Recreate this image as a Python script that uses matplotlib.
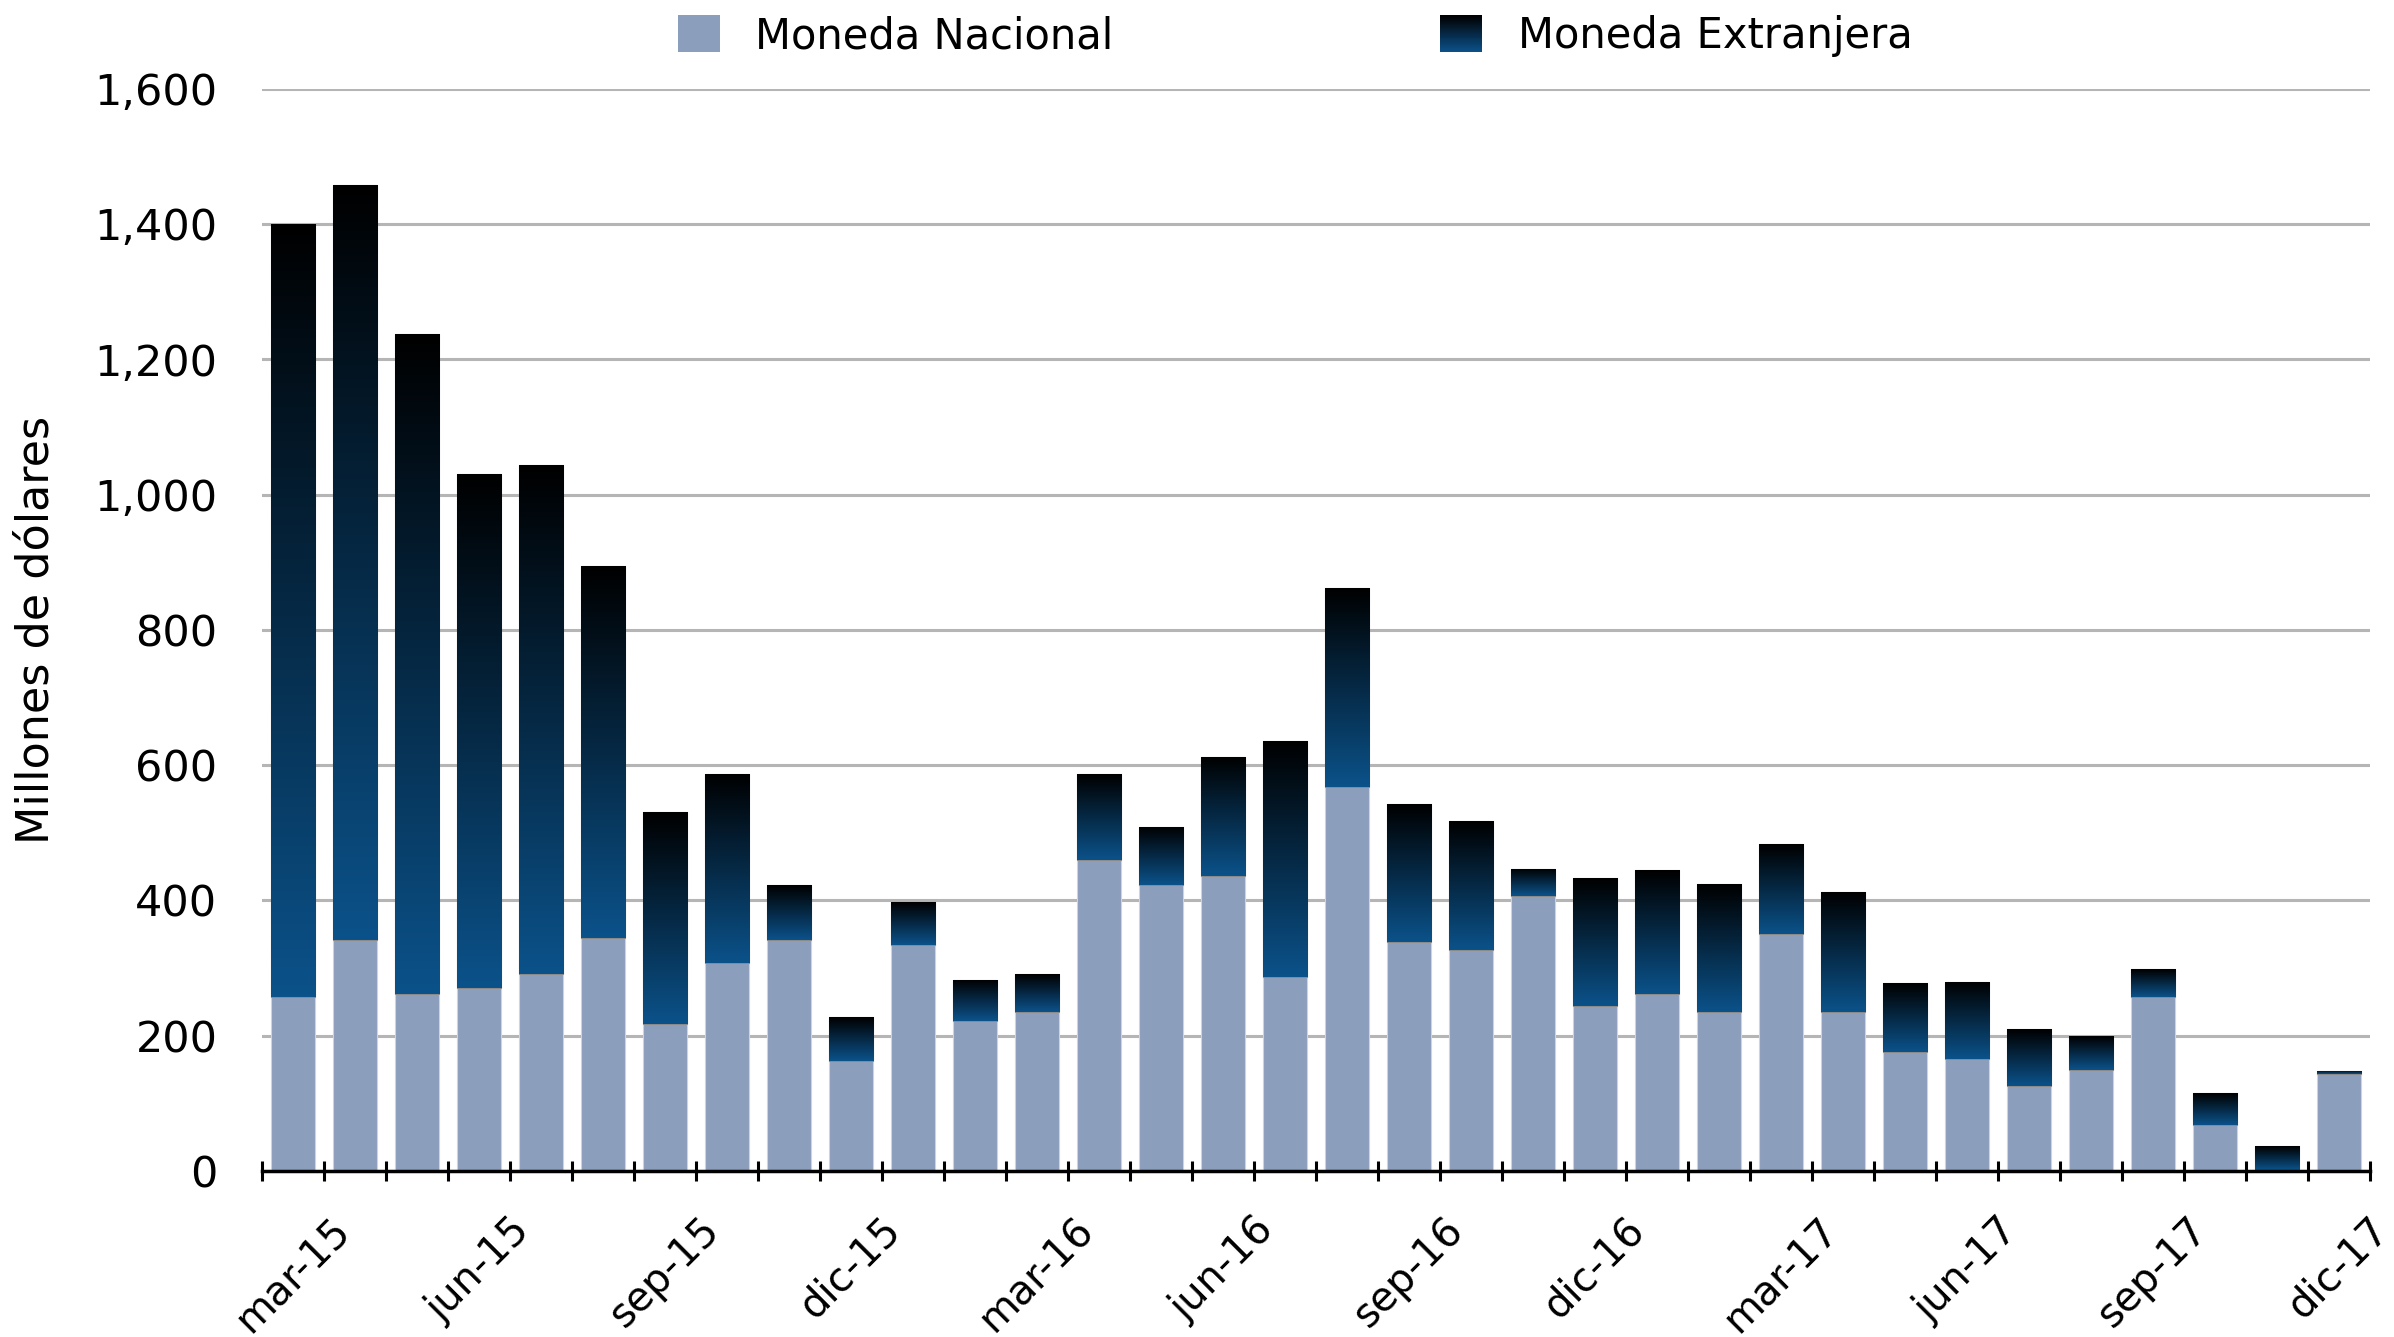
import numpy as np
import matplotlib
matplotlib.use('Agg')
import matplotlib.pyplot as plt
from matplotlib.colors import LinearSegmentedColormap
from matplotlib.patches import Rectangle
from matplotlib.legend_handler import HandlerBase

# monthly data, mar-15 .. dic-17 (millones de dolares)
meses = ['mar-15', 'abr-15', 'may-15', 'jun-15', 'jul-15', 'ago-15', 'sep-15', 'oct-15',
         'nov-15', 'dic-15', 'ene-16', 'feb-16', 'mar-16', 'abr-16', 'may-16', 'jun-16',
         'jul-16', 'ago-16', 'sep-16', 'oct-16', 'nov-16', 'dic-16', 'ene-17', 'feb-17',
         'mar-17', 'abr-17', 'may-17', 'jun-17', 'jul-17', 'ago-17', 'sep-17', 'oct-17',
         'nov-17', 'dic-17']
nacional = [257, 341, 262, 271, 291, 345, 217, 307, 341, 163, 334, 221, 235, 460, 422, 436,
            287, 567, 339, 327, 406, 244, 262, 235, 350, 235, 176, 165, 126, 149, 257, 68,
            2, 143]
extranjera = [1143, 1117, 975, 760, 752, 549, 313, 280, 81, 65, 63, 61, 56, 127, 86, 176,
              349, 295, 203, 190, 41, 189, 183, 189, 133, 178, 102, 115, 84, 50, 41, 47,
              35, 5]

color_nac = '#8b9ebc'
cmap_ext = LinearSegmentedColormap.from_list('ext', ['#0b528a', '#000000'])

plt.rcParams['font.family'] = ['DejaVu Sans']
plt.rcParams['font.size'] = 30


class GradientHandler(HandlerBase):
    # legend swatch with the same vertical gradient as the bars
    def create_artists(self, legend, orig_handle, xdescent, ydescent, width, height,
                       fontsize, trans):
        n = 40
        arts = []
        for k in range(n):
            r = Rectangle((-xdescent, -ydescent + k * height / n), width, height / n + 0.3,
                          facecolor=cmap_ext(k / (n - 1)), edgecolor='none', transform=trans)
            arts.append(r)
        return arts


fig = plt.figure(figsize=(23.94, 13.37), dpi=100)
ax = fig.add_axes([0.1094, 0.1242, 0.8806, 0.8095])

x = np.arange(len(meses))
w = 0.72
b1 = ax.bar(x, nacional, w, color=color_nac, edgecolor='#cdd4df', linewidth=0.8, zorder=2)
b2 = ax.bar(x, extranjera, w, bottom=nacional, color='#0b528a', edgecolor='#8a8a8a',
            linewidth=0.8, zorder=2)

grad = np.linspace(0, 1, 256).reshape(-1, 1)
for bar in b2:
    x0, y0 = bar.get_x(), bar.get_y()
    im = ax.imshow(grad, extent=[x0, x0 + bar.get_width(), y0, y0 + bar.get_height()],
                   origin='lower', cmap=cmap_ext, aspect='auto', zorder=3)
    im.set_clip_path(bar)

ax.set_xlim(-0.5, len(meses) - 0.5)
ax.set_ylim(0, 1600)
ax.set_yticks(np.arange(0, 1601, 200))
ax.set_yticklabels([f'{v:,}' for v in range(0, 1601, 200)], fontsize=31)
ax.yaxis.grid(True, color='#b5b5b5', linewidth=2.2)
ax.set_axisbelow(True)
ax.tick_params(axis='y', length=0, pad=32)

ax.set_xticks(x[::3])
ax.set_xticklabels(meses[::3], rotation=45, ha='center', fontsize=29)
ax.set_xticks(np.arange(-0.5, len(meses), 1), minor=True)
ax.tick_params(axis='x', which='major', length=0, pad=28)
ax.tick_params(axis='x', which='minor', direction='inout', length=14, width=2.2)

for s in ['top', 'right', 'left']:
    ax.spines[s].set_visible(False)
ax.spines['bottom'].set_linewidth(2.5)
ax.spines['bottom'].set_zorder(4)

ax.set_ylabel('Millones de dólares', fontsize=32)
ax.yaxis.set_label_coords(-0.097, 0.5)

h1 = Rectangle((0, 0), 1, 1, facecolor=color_nac)
h2 = Rectangle((0, 0), 1, 1, facecolor='#0b528a')
fig.legend([h1, h2], ['Moneda Nacional', 'Moneda Extranjera'], loc='center',
           bbox_to_anchor=(0.541, 0.973), ncol=2, frameon=False, handlelength=1.0,
           handleheight=1.0, handletextpad=0.85, columnspacing=7.85,
           handler_map={h2: GradientHandler()})

fig.savefig('out.png', dpi=100)
